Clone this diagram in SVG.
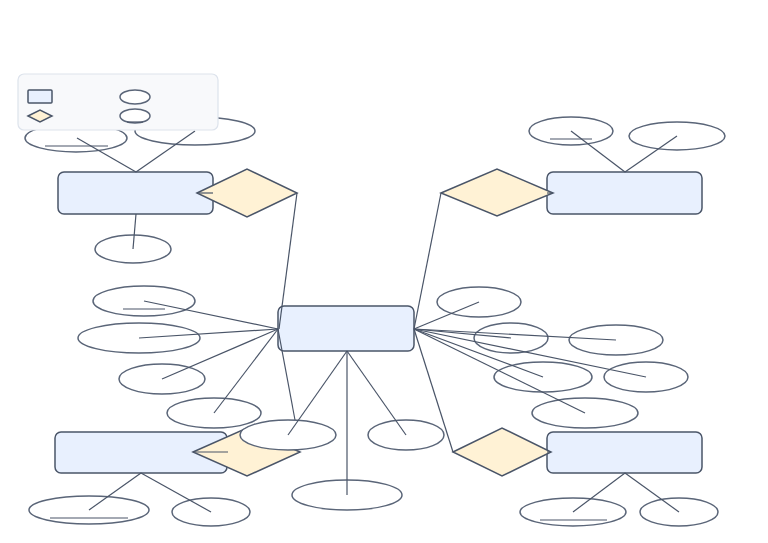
<svg xmlns="http://www.w3.org/2000/svg" width="768" height="543" viewBox="0 0 768 543">
<style>
.ent{fill:#e8f0fe;stroke:#4a5568;stroke-width:1.5}
.rel{fill:#fff2d5;stroke:#4a5568;stroke-width:1.5}
.att{fill:#fff;stroke:#5a6578;stroke-width:1.5}
.ln{stroke:#4a5568;stroke-width:1.2;fill:none}
</style>
<rect width="768" height="543" fill="#fff"/>
<g id="attributes">
<ellipse class="att" cx="76" cy="138" rx="51" ry="14"/><line class="ln" x1="45" y1="146" x2="108" y2="146"/>
<ellipse class="att" cx="195" cy="131" rx="60" ry="14"/>
<ellipse class="att" cx="133" cy="249" rx="38" ry="14"/>
<ellipse class="att" cx="571" cy="131" rx="42" ry="14"/><line class="ln" x1="550" y1="139" x2="592" y2="139"/>
<ellipse class="att" cx="677" cy="136" rx="48" ry="14"/>
<ellipse class="att" cx="89" cy="510" rx="60" ry="14"/><line class="ln" x1="50" y1="518" x2="128" y2="518"/>
<ellipse class="att" cx="211" cy="512" rx="39" ry="14"/>
<ellipse class="att" cx="573" cy="512" rx="53" ry="14"/><line class="ln" x1="540" y1="520" x2="607" y2="520"/>
<ellipse class="att" cx="679" cy="512" rx="39" ry="14"/>
<ellipse class="att" cx="144" cy="301" rx="51" ry="15"/><line class="ln" x1="123" y1="309" x2="165" y2="309"/>
<ellipse class="att" cx="139" cy="338" rx="61" ry="15"/>
<ellipse class="att" cx="162" cy="379" rx="43" ry="15"/>
<ellipse class="att" cx="214" cy="413" rx="47" ry="15"/>
<ellipse class="att" cx="347" cy="495" rx="55" ry="15"/>
<ellipse class="att" cx="406" cy="435" rx="38" ry="15"/>
<ellipse class="att" cx="479" cy="302" rx="42" ry="15"/>
<ellipse class="att" cx="511" cy="338" rx="37" ry="15"/>
<ellipse class="att" cx="616" cy="340" rx="47" ry="15"/>
<ellipse class="att" cx="543" cy="377" rx="49" ry="15"/>
<ellipse class="att" cx="646" cy="377" rx="42" ry="15"/>
<ellipse class="att" cx="585" cy="413" rx="53" ry="15"/>
</g>
<g id="e1"><rect class="ent" x="58" y="172" width="155" height="42" rx="6"/></g>
<g id="e2"><rect class="ent" x="547" y="172" width="155" height="42" rx="6"/></g>
<g id="e3"><rect class="ent" x="278" y="306" width="136" height="45" rx="6"/></g>
<g id="e4"><rect class="ent" x="55" y="432" width="172" height="41" rx="6"/></g>
<g id="e5"><rect class="ent" x="547" y="432" width="155" height="41" rx="6"/></g>
<g id="d1"><polygon class="rel" points="197,193 247,169 297,193 247,217"/></g>
<g id="d2"><polygon class="rel" points="441,193 497,169 553,193 497,216"/></g>
<g id="d3"><polygon class="rel" points="193,452 247,428 300,452 247,476"/></g>
<g id="d4"><polygon class="rel" points="453,452 502,428 551,452 502,476"/></g>
<ellipse id="a-mid" class="att" cx="288" cy="435" rx="48" ry="15"/>
<g id="connectors" class="ln">
<line x1="136" y1="172" x2="77" y2="138"/><line x1="136" y1="172" x2="195" y2="131"/><line x1="136" y1="214" x2="133" y2="249"/>
<line x1="625" y1="172" x2="571" y2="131"/><line x1="625" y1="172" x2="677" y2="136"/>
<line x1="141" y1="473" x2="89" y2="510"/><line x1="141" y1="473" x2="211" y2="512"/>
<line x1="625" y1="473" x2="573" y2="512"/><line x1="625" y1="473" x2="679" y2="512"/>
<line x1="278" y1="329" x2="144" y2="301"/><line x1="278" y1="329" x2="139" y2="338"/><line x1="278" y1="329" x2="162" y2="379"/><line x1="278" y1="329" x2="214" y2="413"/>
<line x1="347" y1="351" x2="288" y2="435"/><line x1="347" y1="351" x2="347" y2="495"/><line x1="347" y1="351" x2="406" y2="435"/>
<line x1="414" y1="329" x2="479" y2="302"/><line x1="414" y1="329" x2="511" y2="338"/><line x1="414" y1="329" x2="616" y2="340"/><line x1="414" y1="329" x2="543" y2="377"/><line x1="414" y1="329" x2="646" y2="377"/><line x1="414" y1="329" x2="585" y2="413"/>
<line x1="297" y1="193" x2="279" y2="329"/><line x1="197" y1="193" x2="213" y2="193"/>
<line x1="441" y1="193" x2="414" y2="329"/><line x1="553" y1="193" x2="547" y2="193"/>
<line x1="278" y1="329" x2="295" y2="420"/><line x1="193" y1="452" x2="228" y2="452"/>
<line x1="414" y1="329" x2="453" y2="452"/><line x1="551" y1="452" x2="547" y2="452"/>
</g>
<g id="legend">
<rect x="18" y="74" width="200" height="56" rx="6" fill="#f8f9fb" stroke="#dde3ec" stroke-width="1.2"/>
<rect class="ent" x="28" y="90" width="24" height="13" rx="1" stroke-width="1.2"/>
<polygon class="rel" points="28,116 40,110 52,116 40,122" stroke-width="1.2"/>
<ellipse class="att" cx="135" cy="97" rx="15" ry="7" stroke-width="1.2"/>
<ellipse class="att" cx="135" cy="116" rx="15" ry="7" stroke-width="1.2"/>
<line class="ln" x1="127" y1="122" x2="143" y2="122"/>
</g>
</svg>
